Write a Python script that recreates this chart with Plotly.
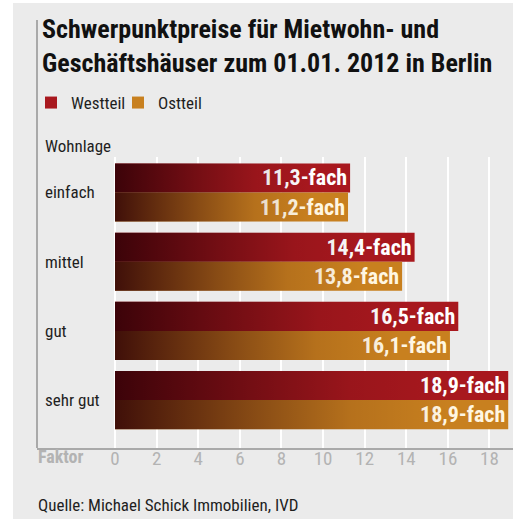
import plotly.graph_objects as go

# ---- data ----
categories = ["einfach", "mittel", "gut", "sehr gut"]
west = [11.3, 14.4, 16.5, 18.9]
ost = [11.2, 13.8, 16.1, 18.9]
series_names = ["Westteil", "Ostteil"]
x_ticks = [0, 2, 4, 6, 8, 10, 12, 14, 16, 18]

FONT = "Roboto Condensed, Liberation Sans Narrow, Roboto, sans-serif"
BG = "#ebebeb"
FRAME = "#a9a9a9"
W_COL = "#a8181e"
O_COL = "#c8801f"
BAR_W = 0.42

# pixel geometry helpers (plot area: x 37..513, y 157..448)
PL, PR, PT, PB = 37, 513, 157, 448
def px_x(p):
    return (p - PL) / (PR - PL)
def px_y(p):
    return (PB - p) / (PB - PT)

ypos = list(range(len(categories)))

fig = go.Figure()

specs = [
    (series_names[0], west, W_COL, "#ffffff", -BAR_W),
    (series_names[1], ost, O_COL, "#fff6e2", 0.0),
]
for name, vals, col, tcol, off in specs:
    fig.add_trace(go.Bar(
        name=name, orientation="h", x=vals, y=ypos,
        width=BAR_W, offset=off,
        marker=dict(color=col, line=dict(width=0)),
        texttemplate="%{x:.1f}-fach", textposition="inside",
        insidetextanchor="end", textangle=0, constraintext="none",
        textfont=dict(family=FONT, size=22, color=tcol, weight="bold"),
        hoverinfo="skip",
    ))

# dark gradient overlay on each bar (dark at the start, fading to transparent)
shade = [[0.0, "rgba(45,0,6,0.88)"], [0.12, "rgba(45,0,6,0.72)"],
         [0.35, "rgba(45,0,6,0.42)"], [0.6, "rgba(45,0,6,0.12)"],
         [0.85, "rgba(45,0,6,0.0)"], [1.0, "rgba(45,0,6,0.0)"]]
for name, vals, col, tcol, off in specs:
    for yi, v in zip(ypos, vals):
        y0, y1 = yi + off, yi + off + BAR_W
        fig.add_trace(go.Scatter(
            x=[0, v, v, 0, 0], y=[y0, y0, y1, y1, y0],
            mode="none", fill="toself",
            fillgradient=dict(type="horizontal", colorscale=shade),
            showlegend=False, hoverinfo="skip",
        ))

fig.update_layout(
    width=513, height=519,
    margin=dict(l=PL, r=0, t=PT, b=519 - PB, pad=0),
    paper_bgcolor=BG, plot_bgcolor=BG,
    barmode="overlay",
    separators=",.",
    font=dict(family=FONT, size=17, color="#1e1e1e"),
    title=dict(
        text="Schwerpunktpreise für Mietwohn- und<br>Geschäftshäuser zum 01.01. 2012 in Berlin",
        x=42 / 513, xanchor="left", y=1 - 38 / 519, yanchor="top",
        font=dict(family=FONT, size=26, color="#111111", weight="bold"),
    ),
    legend=dict(
        orientation="h", x=px_x(31), xanchor="left", y=px_y(85), yanchor="top",
        font=dict(family=FONT, size=17, color="#1e1e1e"),
        bgcolor="rgba(0,0,0,0)", itemclick=False, itemdoubleclick=False,
        traceorder="normal", entrywidth=42,
    ),
    xaxis=dict(
        range=[-3.75, 19.13], tickvals=x_ticks, showgrid=True,
        gridcolor="#ffffff", gridwidth=2, zeroline=False,
        showline=True, linecolor=FRAME, linewidth=2, ticks="",
        tickfont=dict(family=FONT, size=19, color="#b3b3b3"),
        ticklabelstandoff=-8, fixedrange=True,
    ),
    yaxis=dict(
        range=[3.692, -0.513], tickvals=ypos, ticktext=categories,
        showgrid=False, zeroline=False, showline=False, ticks="",
        ticklabelposition="inside", ticklabelstandoff=5,
        tickfont=dict(family=FONT, size=17, color="#1e1e1e"),
        fixedrange=True,
    ),
    shapes=[
        dict(type="rect", xref="paper", yref="paper", x0=px_x(0), x1=px_x(13),
             y0=px_y(530), y1=px_y(-5), fillcolor="#ffffff", line=dict(width=0), layer="above"),
        dict(type="rect", xref="paper", yref="paper", x0=px_x(0), x1=px_x(520),
             y0=px_y(3), y1=px_y(-5), fillcolor="#ffffff", line=dict(width=0), layer="above"),
        dict(type="line", xref="paper", yref="paper", x0=0, x1=0,
             y0=0, y1=px_y(20), line=dict(color=FRAME, width=2), layer="above"),
    ],
    annotations=[
        dict(text="Wohnlage", xref="paper", yref="paper", x=px_x(43), y=px_y(146),
             xanchor="left", yanchor="middle", showarrow=False,
             font=dict(family=FONT, size=17, color="#1e1e1e")),
        dict(text="Faktor", xref="paper", yref="paper", x=px_x(36), y=px_y(457),
             xanchor="left", yanchor="middle", showarrow=False,
             font=dict(family=FONT, size=18, color="#b3b3b3", weight="bold")),
        dict(text="Quelle: Michael Schick Immobilien, IVD", xref="paper", yref="paper",
             x=px_x(36), y=px_y(505), xanchor="left", yanchor="middle", showarrow=False,
             font=dict(family=FONT, size=17, color="#1e1e1e")),
    ],
)

fig.write_html("out.html", config={"displayModeBar": False},
               post_script="document.body.style.margin='0px';")
